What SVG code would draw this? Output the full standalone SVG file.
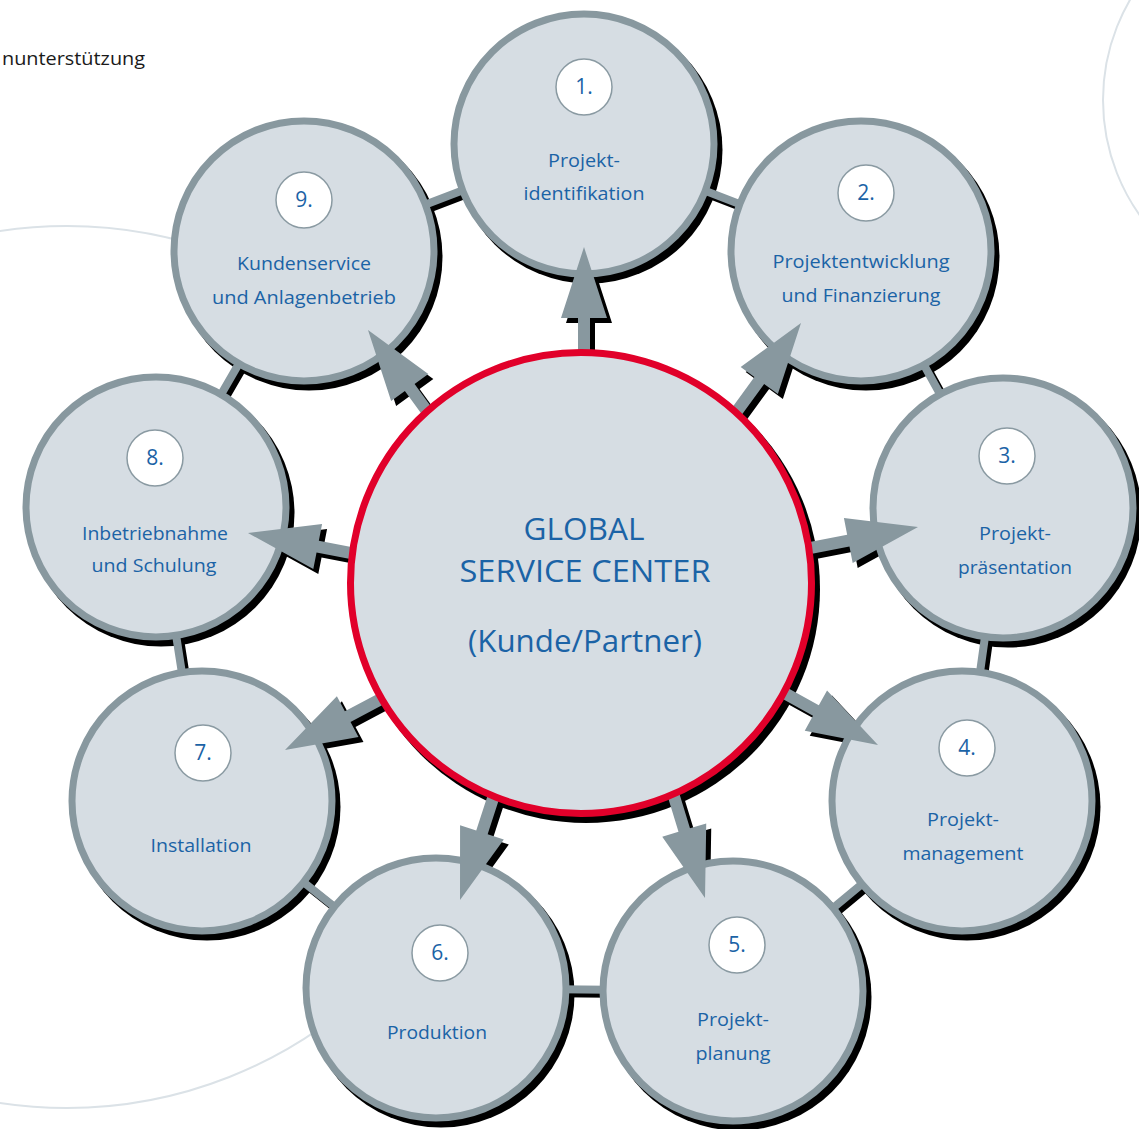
<svg xmlns="http://www.w3.org/2000/svg" width="1139" height="1129" viewBox="0 0 1139 1129">
<defs>
<style>
.deco{fill:none;stroke:#dbe2e7;stroke-width:2}
.shadow{fill:#000}
.ring{fill:#d6dde3;stroke:#88989f;stroke-width:7}
.num{fill:#fff;stroke:#8a9aa2;stroke-width:1.5}
.lbl{font-family:"Open Sans","Noto Sans",sans-serif;font-size:19px;fill:#1b63a6;text-anchor:middle}
.ntx{font-family:"Open Sans","Noto Sans",sans-serif;font-size:21px;fill:#1b63a6;text-anchor:middle}
.ctx{font-family:"Open Sans","Noto Sans",sans-serif;font-size:31px;fill:#1b63a6;text-anchor:middle}
.arr{fill:#88989f}
.bar{fill:none;stroke:#88989f;stroke-width:8;stroke-linejoin:round}
.barsh{fill:none;stroke:#000;stroke-width:8;stroke-linejoin:round}
</style>
<polygon id="arrowShape" points="0,0 -71,-23 -71,-6 -170,-6 -170,6 -71,6 -71,23"/>
<clipPath id="leftClip"><rect x="0" y="0" width="320" height="1129"/></clipPath>
</defs>
<rect width="1139" height="1129" fill="#fff"/>
<g id="background">
<circle class="deco" cx="1302" cy="100" r="199"/>
<circle class="deco" cx="67" cy="667" r="441" clip-path="url(#leftClip)"/>
<text x="2" y="65" font-family="'Open Sans','Noto Sans',sans-serif" font-size="18" fill="#1a1a1a" textLength="143" lengthAdjust="spacingAndGlyphs">nunterstützung</text>
</g>
<g id="shadows">
<polygon class="barsh" transform="translate(4,4)" points="584,144 861,251 1003,508 962,801 733,991 436,988 202,801 156,507 304,251"/>
<g transform="translate(5,6)">
<circle class="shadow" cx="584" cy="144" r="133.5"/>
<circle class="shadow" cx="861" cy="251" r="133.5"/>
<circle class="shadow" cx="1003" cy="508" r="133.5"/>
<circle class="shadow" cx="962" cy="801" r="133.5"/>
<circle class="shadow" cx="733" cy="991" r="133.5"/>
<circle class="shadow" cx="436" cy="988" r="133.5"/>
<circle class="shadow" cx="202" cy="801" r="133.5"/>
<circle class="shadow" cx="156" cy="507" r="133.5"/>
<circle class="shadow" cx="304" cy="251" r="133.5"/>
<circle class="shadow" cx="581" cy="583" r="234"/>
</g>
<g transform="translate(5,5)" class="shadow">
<use href="#arrowShape" transform="translate(584,247) rotate(-90)"/>
<use href="#arrowShape" transform="translate(801,323) rotate(-54)"/>
<use href="#arrowShape" transform="translate(918,527) rotate(-11)"/>
<use href="#arrowShape" transform="translate(878,745) rotate(29)"/>
<use href="#arrowShape" transform="translate(705,898) rotate(73)"/>
<use href="#arrowShape" transform="translate(460,900) rotate(108)"/>
<use href="#arrowShape" transform="translate(285,750) rotate(152)"/>
<use href="#arrowShape" transform="translate(248,533) rotate(191)"/>
<use href="#arrowShape" transform="translate(368,330) rotate(234)"/>
</g>
</g>
<g id="connectors">
<polygon class="bar" points="584,144 861,251 1003,508 962,801 733,991 436,988 202,801 156,507 304,251"/>
</g>
<g id="node1"><circle class="ring" cx="584" cy="144" r="130"/><circle class="num" cx="584" cy="87" r="28"/><text class="ntx" x="584" y="94">1.</text><text class="lbl" x="584" y="167" textLength="72" lengthAdjust="spacingAndGlyphs">Projekt-</text><text class="lbl" x="584" y="200" textLength="121" lengthAdjust="spacingAndGlyphs">identifikation</text></g>
<g id="node2"><circle class="ring" cx="861" cy="251" r="130"/><circle class="num" cx="866" cy="193" r="28"/><text class="ntx" x="866" y="200">2.</text><text class="lbl" x="861" y="268" textLength="177" lengthAdjust="spacingAndGlyphs">Projektentwicklung</text><text class="lbl" x="861" y="302" textLength="159" lengthAdjust="spacingAndGlyphs">und Finanzierung</text></g>
<g id="node3"><circle class="ring" cx="1003" cy="508" r="130"/><circle class="num" cx="1007" cy="456" r="28"/><text class="ntx" x="1007" y="463">3.</text><text class="lbl" x="1015" y="540" textLength="72" lengthAdjust="spacingAndGlyphs">Projekt-</text><text class="lbl" x="1015" y="574" textLength="114" lengthAdjust="spacingAndGlyphs">präsentation</text></g>
<g id="node4"><circle class="ring" cx="962" cy="801" r="130"/><circle class="num" cx="967" cy="748" r="28"/><text class="ntx" x="967" y="755">4.</text><text class="lbl" x="963" y="826" textLength="72" lengthAdjust="spacingAndGlyphs">Projekt-</text><text class="lbl" x="963" y="860" textLength="121" lengthAdjust="spacingAndGlyphs">management</text></g>
<g id="node5"><circle class="ring" cx="733" cy="991" r="130"/><circle class="num" cx="737" cy="945" r="28"/><text class="ntx" x="737" y="952">5.</text><text class="lbl" x="733" y="1026" textLength="72" lengthAdjust="spacingAndGlyphs">Projekt-</text><text class="lbl" x="733" y="1060" textLength="75" lengthAdjust="spacingAndGlyphs">planung</text></g>
<g id="node6"><circle class="ring" cx="436" cy="988" r="130"/><circle class="num" cx="440" cy="953" r="28"/><text class="ntx" x="440" y="960">6.</text><text class="lbl" x="437" y="1039" textLength="100" lengthAdjust="spacingAndGlyphs">Produktion</text></g>
<g id="node7"><circle class="ring" cx="202" cy="801" r="130"/><circle class="num" cx="203" cy="753" r="28"/><text class="ntx" x="203" y="760">7.</text><text class="lbl" x="201" y="852" textLength="101" lengthAdjust="spacingAndGlyphs">Installation</text></g>
<g id="node8"><circle class="ring" cx="156" cy="507" r="130"/><circle class="num" cx="155" cy="458" r="28"/><text class="ntx" x="155" y="465">8.</text><text class="lbl" x="155" y="540" textLength="146" lengthAdjust="spacingAndGlyphs">Inbetriebnahme</text><text class="lbl" x="154" y="572" textLength="125" lengthAdjust="spacingAndGlyphs">und Schulung</text></g>
<g id="node9"><circle class="ring" cx="304" cy="251" r="130"/><circle class="num" cx="304" cy="200" r="28"/><text class="ntx" x="304" y="207">9.</text><text class="lbl" x="304" y="270" textLength="134" lengthAdjust="spacingAndGlyphs">Kundenservice</text><text class="lbl" x="304" y="304" textLength="184" lengthAdjust="spacingAndGlyphs">und Anlagenbetrieb</text></g>
<g id="arrows" class="arr">
<use href="#arrowShape" transform="translate(584,247) rotate(-90)"/>
<use href="#arrowShape" transform="translate(801,323) rotate(-54)"/>
<use href="#arrowShape" transform="translate(918,527) rotate(-11)"/>
<use href="#arrowShape" transform="translate(878,745) rotate(29)"/>
<use href="#arrowShape" transform="translate(705,898) rotate(73)"/>
<use href="#arrowShape" transform="translate(460,900) rotate(108)"/>
<use href="#arrowShape" transform="translate(285,750) rotate(152)"/>
<use href="#arrowShape" transform="translate(248,533) rotate(191)"/>
<use href="#arrowShape" transform="translate(368,330) rotate(234)"/>
</g>
<g id="center">
<circle cx="581" cy="583" r="230.5" fill="#d6dde3" stroke="#e1002a" stroke-width="7"/>
<text class="ctx" x="584" y="540" textLength="121" lengthAdjust="spacingAndGlyphs">GLOBAL</text>
<text class="ctx" x="585" y="582" textLength="251" lengthAdjust="spacingAndGlyphs">SERVICE CENTER</text>
<text class="ctx" x="585" y="652" textLength="234" lengthAdjust="spacingAndGlyphs">(Kunde/Partner)</text>
</g>
</svg>
